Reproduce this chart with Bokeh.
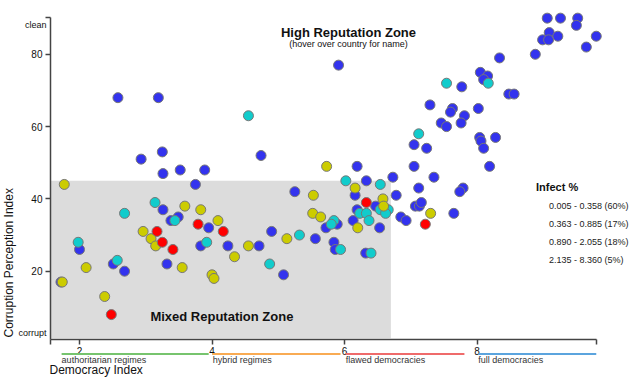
from math import pi
from bokeh.plotting import figure
from bokeh.models import BoxAnnotation, Label, Legend, LegendItem, FixedTicker
from bokeh.embed import file_html
from bokeh.resources import INLINE

FONT = "Liberation Sans"

# ---- data: democracy index (x) and corruption perception index (y) per infection group ----
blue_dem = [2.58, 3.19, 2.93, 3.25, 3.26, 3.52, 3.89, 3.75, 3.26, 3.49, 3.38, 3.95, 3.83, 2.00, 2.51,
            3.32, 2.68, 1.72, 4.74, 6.19, 7.05, 7.05, 7.12, 7.07, 7.13, 7.16, 6.73, 6.33, 6.16, 6.78,
            5.25, 6.47, 6.19, 6.13, 6.85, 6.93, 5.89, 5.72, 6.53, 4.90, 5.56, 4.24, 4.71, 5.84, 5.86,
            6.32, 5.08, 7.35, 5.91, 7.29, 7.63, 7.60, 8.02, 7.81, 7.46, 7.54, 7.76, 7.24, 8.04, 8.06,
            8.10, 8.28, 8.19, 7.79, 7.74, 7.65, 9.06, 9.26, 9.52, 9.50, 9.09, 8.99, 9.08, 9.22, 9.80,
            9.65, 8.88, 8.34, 8.05, 8.16, 8.10, 7.77, 8.48, 8.56]
blue_cpi = [68, 68, 51, 53, 47, 48, 48, 44, 37, 35, 34, 32, 27, 26, 22,
            22, 20, 17, 52, 49, 55, 49, 43, 38, 38, 39, 46, 45, 41, 41,
            42, 38, 37, 34, 35, 34, 33, 32, 32, 31, 29, 27, 27, 28, 26,
            25, 19, 46, 77, 66, 65, 64, 65, 63, 61, 60, 61, 54, 57, 56,
            54, 57, 49, 43, 42, 36, 90, 90, 90, 88, 86, 84, 84, 85, 85,
            82, 80, 79, 75, 74, 73, 71, 69, 69]

cyan_dem = [3.14, 2.68, 3.44, 3.92, 1.98, 2.57, 4.55, 6.02, 6.54, 6.54, 6.66, 6.62, 6.23, 6.33,
            6.37, 5.84, 5.80, 5.32, 5.94, 6.40, 4.87, 7.12, 7.54, 8.17]
cyan_cpi = [39, 36, 34, 28, 28, 23, 63, 45, 44, 37, 37, 36, 36, 36,
            34, 34, 33, 30, 26, 25, 22, 58, 72, 72]

yellow_dem = [1.77, 3.59, 3.83, 4.09, 2.96, 3.08, 3.15, 2.10, 3.55, 4.00, 4.03, 1.74, 2.38,
              5.73, 6.16, 5.53, 6.58, 6.59, 5.52, 5.64, 6.20, 7.30, 5.13, 4.55, 4.34]
yellow_cpi = [44, 38, 37, 34, 31, 29, 27, 21, 21, 19, 18, 17, 13,
              49, 43, 41, 40, 38, 36, 35, 32, 36, 29, 27, 24]

red_dem = [3.79, 4.17, 3.17, 3.25, 3.41, 2.48, 6.33, 7.22]
red_cpi = [33, 31, 31, 28, 26, 8, 39, 33]

group_labels = ["0.005 - 0.358 (60%)", "0.363 - 0.885 (17%)",
                "0.890 - 2.055 (18%)", "2.135 - 8.360 (5%)"]
group_colors = ["#3333ee", "#11cccc", "#cccc00", "#ff0000"]

regime_names = ["authoritarian regimes", "hybrid regimes", "flawed democracies", "full democracies"]
regime_start = [1.73, 4.01, 6.02, 8.02]
regime_end = [3.95, 5.94, 7.81, 9.80]
regime_colors = ["#77c46e", "#f9ab53", "#ef6b6b", "#5ba4de"]

x_ticks = [2, 4, 6, 8]
y_ticks = [20, 40, 60, 80]

mixed_zone_dem = 6.7
mixed_zone_cpi = 45

# axis extents (data units) and the visible view
x_axis_lo, x_axis_hi = 1.562, 9.80
y_axis_lo, y_axis_hi = 1.107, 90.2
view_x = (0.8075, 10.347)
view_y = (-9.405, 94.88)

W, H = 632, 377
p = figure(width=W, height=H, x_range=view_x, y_range=view_y,
           output_backend="svg", toolbar_location=None,
           min_border_left=0, min_border_right=0, min_border_top=0, min_border_bottom=0)
p.outline_line_color = None
p.xgrid.visible = False
p.ygrid.visible = False

# mixed reputation zone
p.add_layout(BoxAnnotation(left=x_axis_lo, bottom=y_axis_lo + 0.35, right=mixed_zone_dem,
                           top=mixed_zone_cpi, fill_color="#dcdcdc",
                           fill_alpha=1, line_color=None, level="underlay"))

groups = [(blue_dem, blue_cpi), (cyan_dem, cyan_cpi), (yellow_dem, yellow_cpi), (red_dem, red_cpi)]
for (xs, ys), c in zip(groups, group_colors):
    p.scatter(xs, ys, size=10, fill_color=c, line_color="#777777", line_width=1)

# legend with square swatches
items = []
for lab, c in zip(group_labels, group_colors):
    r = p.quad(left=[], right=[], top=[], bottom=[], fill_color=c, line_color=None)
    items.append(LegendItem(label=lab, renderers=[r]))
legend = Legend(items=items, location=(536, 112), title="Infect %",
                title_text_font=FONT, title_text_font_style="bold", title_text_font_size="11px",
                title_text_color="#111", title_standoff=7,
                label_text_font=FONT, label_text_font_size="9px", label_text_color="#222",
                glyph_width=11, glyph_height=11, label_height=11, spacing=7, label_standoff=2,
                padding=0, margin=0, border_line_alpha=0, background_fill_alpha=0)
p.add_layout(legend)

# axes, fixed inside the view
for ax in (p.xaxis, p.yaxis):
    ax.axis_line_color = "#444444"
    ax.axis_line_width = 1.5
    ax.major_tick_line_color = "#444444"
    ax.major_tick_line_width = 1.5
    ax.major_tick_out = 5
    ax.major_tick_in = 0
    ax.minor_tick_line_color = None
    ax.major_label_text_font = FONT
    ax.major_label_text_font_size = "10px"
    ax.major_label_text_color = "#111111"
    ax.major_label_standoff = 3

p.xaxis.fixed_location = y_axis_lo
p.xaxis.bounds = (x_axis_lo, x_axis_hi)
p.xaxis.ticker = FixedTicker(ticks=[x_axis_lo] + x_ticks + [x_axis_hi])
p.xaxis.major_label_overrides = {x_axis_lo: "", x_axis_hi: ""}

p.yaxis.fixed_location = x_axis_lo
p.yaxis.bounds = (y_axis_lo, y_axis_hi)
p.yaxis.ticker = FixedTicker(ticks=y_ticks + [y_axis_hi])
p.yaxis.major_label_overrides = {y_axis_hi: ""}

# regime bands under the x axis
for name, s, e, c in zip(regime_names, regime_start, regime_end, regime_colors):
    p.add_layout(BoxAnnotation(left=s, right=e, top=-2.63, bottom=-3.18,
                               fill_color=c, fill_alpha=1, line_color=None))
    p.add_layout(Label(x=s, y=-4.56, text=name,
                       text_font=FONT, text_font_size="9px", text_color="#333333",
                       text_align="left", text_baseline="middle"))

# axis titles
p.add_layout(Label(x=1.547, y=-7.3, text="Democracy Index",
                   text_font=FONT, text_font_size="12px", text_color="#111111",
                   text_align="left", text_baseline="middle"))
p.add_layout(Label(x=0.943, y=1.66, text="Corruption Perception Index",
                   angle=pi / 2, text_font=FONT, text_font_size="12px", text_color="#111111",
                   text_align="left", text_baseline="middle"))
p.add_layout(Label(x=1.502, y=88.0, text="clean",
                   text_font=FONT, text_font_size="9px", text_color="#111111",
                   text_align="right", text_baseline="middle"))
p.add_layout(Label(x=1.502, y=2.77, text="corrupt",
                   text_font=FONT, text_font_size="9px", text_color="#111111",
                   text_align="right", text_baseline="middle"))

# zone titles
p.add_layout(Label(x=6.06, y=86.0, text="High Reputation Zone", text_font=FONT,
                   text_font_size="13px", text_font_style="bold", text_color="#111111",
                   text_align="center", text_baseline="middle"))
p.add_layout(Label(x=6.06, y=82.9, text="(hover over country for name)", text_font=FONT,
                   text_font_size="9px", text_color="#111111",
                   text_align="center", text_baseline="middle"))
p.add_layout(Label(x=3.07, y=7.5, text="Mixed Reputation Zone", text_font=FONT,
                   text_font_size="13px", text_font_style="bold", text_color="#111111",
                   text_align="left", text_baseline="middle"))

open("out.html", "w").write(file_html(p, INLINE))
